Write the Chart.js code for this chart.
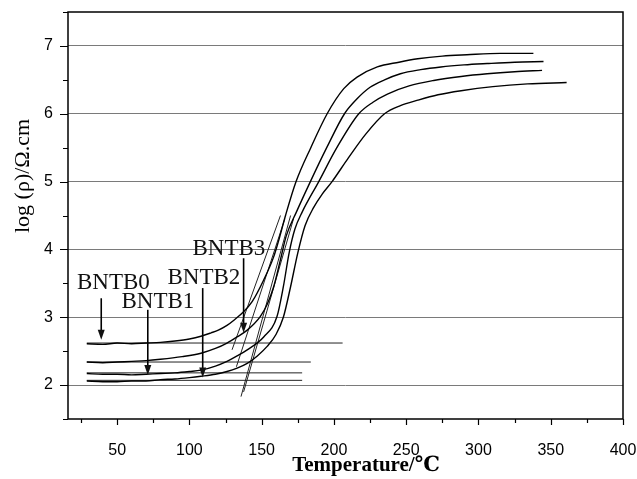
<!DOCTYPE html>
<html>
<head>
<meta charset="utf-8">
<script src="https://cdn.jsdelivr.net/npm/chart.js@4.4.1/dist/chart.umd.min.js"></script>
<style>
  html, body { margin: 0; padding: 0; background: #fff; }
  #wrap { width: 637px; height: 479px; position: relative; }
</style>
</head>
<body>
<div id="wrap"><canvas id="chart-area"></canvas></div>
<script>
// resistivity curves (T in degC, log rho)
var tB0 = [29, 40, 50, 60, 70, 80, 90, 100, 108, 115, 120, 126, 131, 137.5, 143.4, 151.4, 158.3, 162, 166.5, 173.8, 184, 195.3, 206.8, 216, 230, 245, 258, 275, 292, 315, 338];
var rB0 = [2.61, 2.60, 2.62, 2.61, 2.62, 2.63, 2.65, 2.68, 2.72, 2.77, 2.81, 2.88, 2.96, 3.08, 3.23, 3.55, 3.89, 4.15, 4.5, 5.0, 5.5, 6.0, 6.37, 6.54, 6.69, 6.76, 6.81, 6.85, 6.87, 6.89, 6.89];

var tB1 = [29, 40, 50, 60, 70, 80, 90, 100, 108, 118, 126, 133, 140, 151.4, 160.6, 165, 169, 173, 178, 189.5, 202, 217.2, 227, 237, 252, 269, 288, 306, 325, 344];
var rB1 = [2.17, 2.16, 2.16, 2.15, 2.16, 2.17, 2.18, 2.2, 2.22, 2.28, 2.35, 2.43, 2.52, 2.71, 3.01, 3.45, 3.95, 4.3, 4.55, 5.0, 5.5, 6.0, 6.17, 6.29, 6.41, 6.49, 6.55, 6.59, 6.62, 6.64];

var tB2 = [29, 40, 50, 60, 70, 80, 90, 100, 108, 118, 126, 133, 140, 147, 153.8, 160, 165, 170, 175, 180, 186, 192, 198.7, 210, 222, 235, 246, 258, 272, 288, 310, 334, 361];
var rB2 = [2.06, 2.05, 2.05, 2.06, 2.06, 2.08, 2.09, 2.11, 2.13, 2.16, 2.2, 2.25, 2.32, 2.43, 2.57, 2.75, 3.0, 3.45, 3.95, 4.35, 4.62, 4.82, 5.0, 5.35, 5.7, 6.0, 6.12, 6.2, 6.28, 6.34, 6.4, 6.44, 6.46];

var tB3 = [29, 40, 50, 60, 70, 80, 95, 108, 118, 126, 133, 140, 149, 154, 158.3, 163, 167, 174, 183.7, 195, 207.3, 216, 225, 235, 246, 260, 274, 290, 306, 325, 345];
var rB3 = [2.34, 2.33, 2.34, 2.35, 2.36, 2.38, 2.42, 2.47, 2.54, 2.62, 2.71, 2.81, 3.01, 3.2, 3.45, 3.85, 4.2, 4.55, 5.0, 5.5, 6.0, 6.22, 6.39, 6.5, 6.59, 6.65, 6.69, 6.72, 6.74, 6.76, 6.77];

// construction lines (order B0, B1, B2, B3)
var baseStartT = [29, 29, 29, 29];
var baseEndT = [206, 178, 178, 184];
var baseLog = [2.62, 2.18, 2.07, 2.34];

var tanStartT = [129.5, 135.7, 137.5, 132.5];
var tanStartLog = [2.52, 1.83, 1.9, 2.27];
var tanEndT = [163, 170, 172, 166];
var tanEndLog = [4.5, 4.5, 4.45, 4.45];

// labels with arrows
var labelNames = ['BNTB0', 'BNTB1', 'BNTB2', 'BNTB3'];
var labelT = [47.4, 78.2, 110, 127.3];
var labelLog = [3.50, 3.23, 3.58, 4.01];
var arrowT = [39, 71.2, 109.2, 137.5];
var arrowFrom = [3.28, 3.11, 3.43, 3.87];
var arrowTo = [2.67, 2.15, 2.11, 2.77];

var xTicks = [50, 100, 150, 200, 250, 300, 350, 400];
var yTicks = [2, 3, 4, 5, 6, 7];

function pts(xs, ys) {
  return xs.map(function(x, i) { return {x: x, y: ys[i]}; });
}

var datasets = [];
[[tB0, rB0], [tB1, rB1], [tB2, rB2], [tB3, rB3]].forEach(function(s, i) {
  datasets.push({
    label: labelNames[i],
    data: pts(s[0], s[1]),
    borderColor: '#000',
    borderWidth: 1.4,
    pointRadius: 0,
    showLine: true,
    cubicInterpolationMode: 'monotone'
  });
});
for (var i = 0; i < 4; i++) {
  datasets.push({
    data: [{x: baseStartT[i], y: baseLog[i]}, {x: baseEndT[i], y: baseLog[i]}],
    borderColor: '#222',
    borderWidth: 1,
    pointRadius: 0,
    showLine: true
  });
  datasets.push({
    data: [{x: tanStartT[i], y: tanStartLog[i]}, {x: tanEndT[i], y: tanEndLog[i]}],
    borderColor: '#222',
    borderWidth: 1,
    pointRadius: 0,
    showLine: true
  });
}

var decor = {
  id: 'decor',
  afterDraw: function(chart) {
    var ctx = chart.ctx, a = chart.chartArea;
    var xs = chart.scales.x, ys = chart.scales.y;
    ctx.save();
    ctx.strokeStyle = '#000';
    ctx.lineWidth = 1.5;
    ctx.strokeRect(a.left, a.top, a.right - a.left, a.bottom - a.top);

    // ticks, major and minor
    ctx.lineWidth = 1.2;
    ctx.beginPath();
    for (var v = 1.5; v <= 7.51; v += 0.5) {
      var py = Math.round(ys.getPixelForValue(v)) + 0.5;
      var len = (v % 1 === 0) ? 8 : 5;
      ctx.moveTo(a.left, py);
      ctx.lineTo(a.left - len, py);
    }
    for (var t = 25; t <= 400; t += 25) {
      var px = Math.round(xs.getPixelForValue(t)) + 0.5;
      var l2 = (t % 50 === 0) ? 6 : 4;
      ctx.moveTo(px, a.bottom);
      ctx.lineTo(px, a.bottom + l2);
    }
    ctx.stroke();

    // sample labels and arrows
    ctx.fillStyle = '#111';
    ctx.font = '23px "Liberation Serif", "Times New Roman", serif';
    ctx.textAlign = 'center';
    ctx.textBaseline = 'middle';
    for (var k = 0; k < labelNames.length; k++) {
      ctx.fillText(labelNames[k], xs.getPixelForValue(labelT[k]), ys.getPixelForValue(labelLog[k]));
      var ax = xs.getPixelForValue(arrowT[k]);
      var y0 = ys.getPixelForValue(arrowFrom[k]);
      var y1 = ys.getPixelForValue(arrowTo[k]);
      ctx.lineWidth = 1.6;
      ctx.beginPath();
      ctx.moveTo(ax, y0);
      ctx.lineTo(ax, y1 - 6);
      ctx.stroke();
      ctx.beginPath();
      ctx.moveTo(ax, y1);
      ctx.lineTo(ax - 3.5, y1 - 10);
      ctx.lineTo(ax + 3.5, y1 - 10);
      ctx.closePath();
      ctx.fill();
    }

    // axis titles
    ctx.fillStyle = '#000';
    ctx.font = 'bold 21px "Liberation Serif", "DejaVu Serif", serif';
    ctx.fillText('Temperature/\u2103', 366, 466);
    ctx.translate(23, 176);
    ctx.rotate(-Math.PI / 2);
    ctx.font = '22px "Liberation Serif", "DejaVu Serif", serif';
    ctx.fillText('log (\u03c1)/\u03a9.cm', 0, 0);
    ctx.restore();
  }
};

window.onload = function() {
  var ctx = document.getElementById('chart-area').getContext('2d');
  new Chart(ctx, {
    type: 'scatter',
    data: {datasets: datasets},
    options: {
      responsive: true,
      maintainAspectRatio: false,
      animation: false,
      layout: {padding: {top: 12, right: 14, left: 0, bottom: 0}},
      plugins: {legend: {display: false}, tooltip: {enabled: false}},
      scales: {
        x: {
          type: 'linear',
          min: 16,
          max: 400,
          afterBuildTicks: function(s) { s.ticks = xTicks.map(function(v) { return {value: v}; }); },
          afterFit: function(s) {
            s.height = 60;
            s.paddingLeft = 0;
            s.paddingRight = 0;
          },
          grid: {display: false},
          border: {display: false},
          ticks: {
            padding: 14,
            color: '#000',
            font: {family: '"Liberation Sans", Arial, sans-serif', size: 16}
          }
        },
        y: {
          type: 'linear',
          min: 1.5,
          max: 7.5,
          afterBuildTicks: function(s) { s.ticks = yTicks.map(function(v) { return {value: v}; }); },
          afterFit: function(s) {
            s.width = 68;
            s.paddingTop = 0;
            s.paddingBottom = 0;
          },
          grid: {color: '#7a7a7a', lineWidth: 1, drawTicks: false},
          border: {display: false},
          ticks: {
            padding: 15,
            color: '#000',
            font: {family: '"Liberation Sans", Arial, sans-serif', size: 16}
          }
        }
      }
    },
    plugins: [decor]
  });
};
</script>
</body>
</html>
